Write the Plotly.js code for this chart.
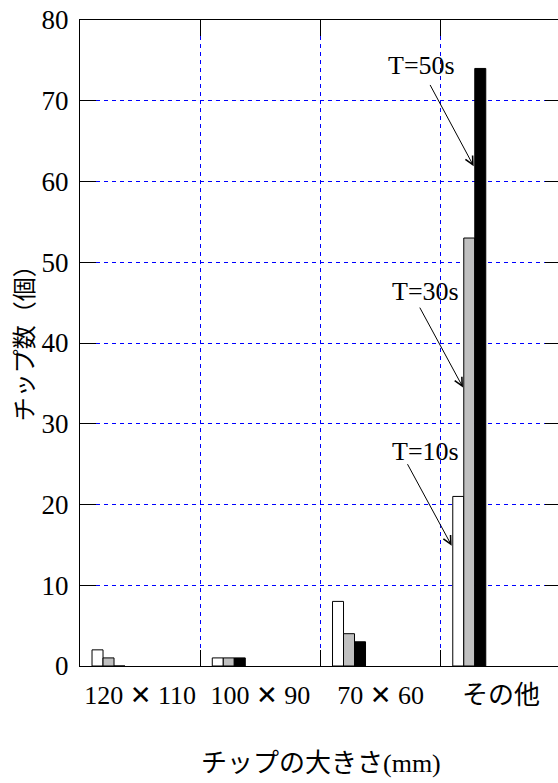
<!DOCTYPE html>
<html>
<head>
<meta charset="utf-8">
<script src="https://cdn.plot.ly/plotly-3.0.1.min.js"></script>
<style>
html, body { margin: 0; padding: 0; overflow: hidden; background: #fff; }
#chart { width: 562px; height: 783px; }
</style>
</head>
<body>
<div id="chart"></div>
<script>
// ---- data ----
const categories = ['120×110', '100×90', '70×60', 'その他'];
const tickLabels = [
  '120 <span style="font-family:DejaVu Sans;font-weight:bold">✕</span> 110',
  '100 <span style="font-family:DejaVu Sans;font-weight:bold">✕</span> 90',
  '70 <span style="font-family:DejaVu Sans;font-weight:bold">✕</span> 60',
  'その他'
];
const seriesNames = ['T=10s', 'T=30s', 'T=50s'];
const valuesT10 = [2, 1, 8, 21];
const valuesT30 = [1, 1, 4, 53];
const valuesT50 = [0, 1, 3, 74];
const yTicks = [0, 10, 20, 30, 40, 50, 60, 70, 80];

// ---- styling ----
const serif = 'Liberation Serif, Times New Roman, Noto Sans CJK JP, serif';
const cjk = 'Noto Sans CJK JP, sans-serif';
const barWidth = 0.0915;
const firstOffset = -0.4;

function barTrace(name, vals, idx, fill) {
  return {
    type: 'bar',
    name: name,
    x: categories,
    y: vals,
    width: barWidth,
    offset: firstOffset + idx * barWidth,
    marker: { color: fill, line: { color: '#000', width: 1 } },
    hoverinfo: 'x+y+name'
  };
}

const data = [
  barTrace(seriesNames[0], valuesT10, 0, '#ffffff'),
  barTrace(seriesNames[1], valuesT30, 1, '#c0c0c0'),
  barTrace(seriesNames[2], valuesT50, 2, '#000000')
];

const labelFont = { family: serif, size: 26, color: '#000' };

function arrow(x, y, ax, ay) {
  return {
    x: x, y: y, xref: 'x', yref: 'y', text: '',
    showarrow: true, ax: ax, ay: ay,
    arrowhead: 5, arrowsize: 1.6, arrowwidth: 1, arrowcolor: '#000'
  };
}
function label(x, y, text) {
  return { x: x, y: y, xref: 'x', yref: 'y', text: text, showarrow: false,
           font: labelFont, xanchor: 'center', yanchor: 'middle' };
}

const layout = {
  width: 562,
  height: 783,
  margin: { l: 80, r: 1, t: 20, b: 117 },
  paper_bgcolor: '#fff',
  plot_bgcolor: '#fff',
  showlegend: false,
  barmode: 'overlay',
  xaxis: {
    type: 'category',
    range: [-0.5, 3.5],
    tickson: 'boundaries',
    tickmode: 'array',
    tickvals: categories,
    ticktext: tickLabels,
    tickangle: 0,
    ticks: 'inside',
    ticklen: 16,
    tickcolor: '#000',
    tickwidth: 1,
    showline: true,
    linecolor: '#000',
    linewidth: 1,
    mirror: 'ticks',
    showgrid: true,
    gridcolor: '#0000ff',
    gridwidth: 1,
    griddash: '4px,4px',
    tickfont: { family: serif, size: 26, color: '#000' },
    ticklabelstandoff: 6,
    fixedrange: true
  },
  yaxis: {
    range: [0, 80],
    tickmode: 'array',
    tickvals: yTicks,
    ticktext: yTicks.map(String),
    ticks: 'inside',
    ticklen: 16,
    tickcolor: '#000',
    tickwidth: 1,
    showline: true,
    linecolor: '#000',
    linewidth: 1,
    mirror: 'ticks',
    showgrid: true,
    gridcolor: '#0000ff',
    gridwidth: 1,
    griddash: '4px,4px',
    zeroline: false,
    tickfont: { family: serif, size: 27, color: '#000' },
    ticklabelstandoff: 5,
    fixedrange: true
  },
  annotations: [
    label(2.342, 74.4, seriesNames[2]),
    label(2.369, 46.35, seriesNames[1]),
    label(2.377, 26.54, seriesNames[0]),
    arrow(2.774, 61.9, -44.4, -82.7),
    arrow(2.685, 34.5, -44, -81.3),
    arrow(2.591, 14.9, -45, -83),
    {
      xref: 'paper', yref: 'paper', x: 0.5, y: -0.146,
      xanchor: 'center', yanchor: 'middle', showarrow: false,
      text: 'チップの大きさ<span style="font-family:Liberation Serif">(mm)</span>',
      font: { family: cjk, size: 26, color: '#000' }
    },
    {
      xref: 'paper', yref: 'paper', x: -0.1205, y: 0.509,
      xanchor: 'center', yanchor: 'middle', showarrow: false, textangle: -90,
      text: 'チップ数（個）',
      font: { family: cjk, size: 24, color: '#000' }
    }
  ]
};

Plotly.newPlot('chart', data, layout, { displayModeBar: false, staticPlot: true });
</script>
</body>
</html>
